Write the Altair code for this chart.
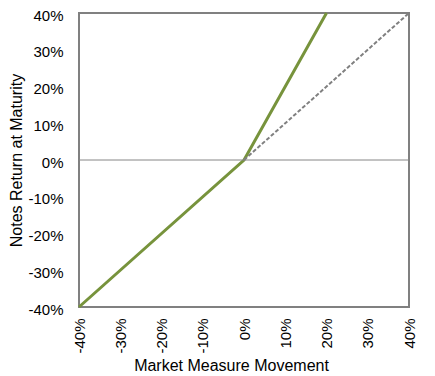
import altair as alt
import pandas as pd

# Data (percent values)
green_x = [-40, 0, 20]
green_y = [-40, 0, 40]
dash_x = [0, 40]
dash_y = [0, 40]
ticks = [-40, -30, -20, -10, 0, 10, 20, 30, 40]

green = pd.DataFrame({"x": green_x, "y": green_y})
dash = pd.DataFrame({"x": dash_x, "y": dash_y})
zero = pd.DataFrame({"y": [0]})

xscale = alt.Scale(domain=[-40, 40], nice=False, zero=False)
yscale = alt.Scale(domain=[-40, 40], nice=False, zero=False)

FONT = "Liberation Sans"

xaxis = alt.Axis(values=ticks, labelExpr="datum.value + '%'", labelAngle=-90,
                 labelAlign="right", labelBaseline="middle", labelPadding=11,
                 labelOverlap=False, labelFlush=False,
                 ticks=False, domain=False, grid=False,
                 title="Market Measure Movement",
                 titleX=152, titleY=58, titleAlign="center", titleBaseline="middle")
yaxis = alt.Axis(values=ticks, labelExpr="datum.value + '%'", labelPadding=16,
                 labelOverlap=False, labelFlush=False, labelOffset=2,
                 ticks=False, domain=False, grid=False,
                 title="Notes Return at Maturity",
                 titleX=-63, titleY=147, titleAngle=-90, titleAlign="center",
                 titleBaseline="middle")

base_x = alt.X("x:Q", scale=xscale, axis=xaxis)
base_y = alt.Y("y:Q", scale=yscale, axis=yaxis)

green_line = alt.Chart(green).mark_line(color="#77933C", strokeWidth=3).encode(
    x=base_x, y=base_y
)

zero_line = alt.Chart(zero).mark_rule(color="#868686", strokeWidth=1).encode(
    y=base_y
)

dashed = alt.Chart(dash).mark_line(color="#808080", strokeWidth=2, strokeDash=[4, 2]).encode(
    x=base_x, y=base_y
)

chart = alt.layer(green_line, zero_line, dashed).properties(
    width=330, height=294,
    autosize=alt.AutoSizeParams(type="none"),
    padding={"left": 71, "top": 5, "right": 10, "bottom": 70},
).configure_view(
    stroke="#808080", strokeWidth=2
).configure_axis(
    labelFont=FONT, titleFont=FONT, labelFontSize=15, titleFontSize=16,
    labelColor="#000000", titleColor="#000000", titleFontWeight="normal"
)

chart.save("out.html", embed_options={"renderer": "svg", "actions": False})
